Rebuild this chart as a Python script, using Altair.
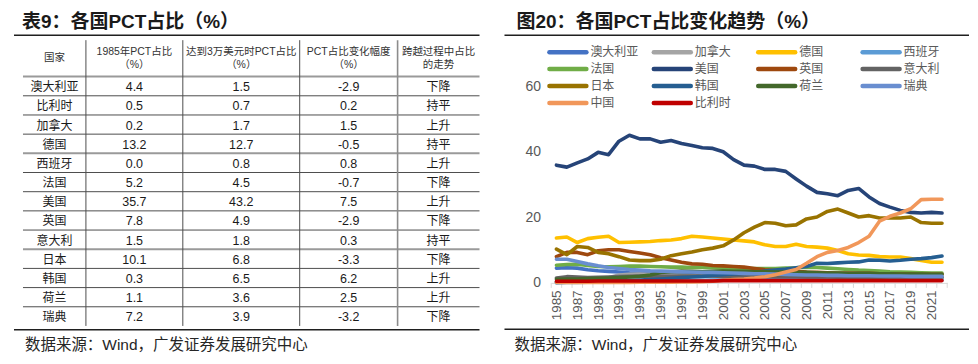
import altair as alt
import pandas as pd

# ---------------- data ----------------
YEARS = list(range(1985, 2023))
SERIES = ["澳大利亚", "加拿大", "德国", "西班牙", "法国", "美国", "英国",
          "意大利", "日本", "韩国", "荷兰", "瑞典", "中国", "比利时"]
COLORS = ["#4472C4", "#A5A5A5", "#FFC000", "#5B9BD5", "#70AD47", "#264478", "#9E480E",
          "#636363", "#997300", "#255E91", "#43682B", "#698ED0", "#F1975A", "#C00000"]

AUSTRALIA = [4.5, 4.6, 4.5, 4.0, 3.7, 3.5, 3.3, 3.1, 3.0, 2.9,
             2.8, 2.7, 2.6, 2.5, 2.4, 2.3, 2.2, 2.1, 2.0, 2.0,
             1.9, 1.9, 1.8, 1.8, 1.7, 1.7, 1.6, 1.6, 1.6, 1.5,
             1.5, 1.5, 1.5, 1.5, 1.4, 1.4, 1.4, 1.4]
CANADA = [0.2, 0.3, 0.4, 0.6, 0.9, 1.6, 2.4, 2.6, 2.7, 2.6,
          2.5, 2.4, 2.3, 2.2, 2.1, 2.0, 2.0, 1.9, 1.9, 1.8,
          1.8, 1.8, 1.7, 1.7, 1.7, 1.6, 1.6, 1.6, 1.6, 1.6,
          1.6, 1.5, 1.5, 1.5, 1.5, 1.5, 1.5, 1.5]
GERMANY = [13.7, 14.0, 12.3, 13.5, 13.9, 14.2, 12.3, 12.4, 12.5, 12.6,
           12.9, 13.1, 13.5, 14.2, 14.0, 13.7, 13.4, 13.1, 12.8, 12.5,
           11.6, 11.1, 11.1, 11.8, 11.1, 10.9, 10.6, 9.9, 8.9, 8.5,
           8.4, 8.0, 7.9, 7.9, 7.4, 6.8, 6.3, 6.3]
SPAIN = [0.0, 0.1, 0.1, 0.2, 0.3, 0.4, 0.5, 0.5, 0.6, 0.7,
         0.7, 0.7, 0.8, 0.8, 0.8, 0.9, 0.9, 0.9, 0.9, 1.0,
         1.0, 1.0, 1.0, 1.0, 1.0, 1.0, 0.9, 0.9, 0.9, 0.9,
         0.9, 0.9, 0.9, 0.9, 0.9, 0.9, 0.8, 0.8]
FRANCE = [5.4, 5.6, 5.7, 5.3, 5.0, 4.9, 5.0, 5.1, 5.1, 5.0,
          4.9, 4.8, 4.8, 4.7, 4.7, 4.6, 4.5, 4.5, 4.4, 4.4,
          4.4, 4.4, 4.5, 4.6, 4.8, 4.7, 4.5, 4.3, 4.1, 3.9,
          3.8, 3.6, 3.4, 3.3, 3.2, 3.1, 3.0, 3.0]
USA = [35.9, 35.3, 36.6, 37.8, 39.8, 39.1, 43.2, 45.0, 43.9, 43.9,
       42.9, 43.4, 42.5, 41.9, 41.2, 41.0, 40.0, 37.6, 35.9, 35.6,
       34.6, 34.6, 34.0, 31.7, 29.5, 27.6, 27.2, 26.6, 28.2, 28.8,
       26.2, 24.2, 23.1, 22.1, 21.5, 21.3, 21.5, 21.3]
UK = [8.0, 9.3, 9.3, 8.6, 9.8, 10.1, 10.1, 9.6, 9.1, 8.6,
      7.7, 7.0, 6.3, 5.8, 5.7, 5.3, 5.2, 5.0, 4.8, 4.4,
      4.0, 3.8, 3.6, 3.5, 3.3, 3.2, 3.1, 3.0, 3.0, 2.9,
      2.9, 2.8, 2.8, 2.7, 2.7, 2.6, 2.6, 2.6]
ITALY = [1.5, 1.9, 1.8, 1.6, 1.7, 1.8, 1.9, 2.0, 2.1, 2.0,
         2.0, 2.0, 2.1, 2.1, 2.1, 2.1, 2.0, 2.0, 2.0, 2.0,
         2.0, 1.9, 1.9, 1.9, 1.8, 1.8, 1.8, 1.7, 1.7, 1.7,
         1.7, 1.7, 1.8, 1.8, 1.8, 1.8, 1.8, 1.8]
JAPAN = [10.3, 8.6, 11.1, 10.8, 9.3, 8.9, 8.0, 7.0, 6.8, 6.8,
         7.2, 8.3, 8.9, 9.4, 10.1, 10.6, 11.3, 13.1, 15.3, 17.0,
         18.4, 18.2, 17.4, 17.7, 19.5, 20.1, 21.8, 22.5, 21.3, 20.1,
         20.5, 19.8, 19.8, 19.8, 20.1, 18.4, 18.2, 18.2]
KOREA = [0.3, 0.3, 0.4, 0.4, 0.5, 0.6, 0.7, 0.8, 0.9, 1.0,
         1.2, 1.4, 1.6, 1.8, 2.0, 2.3, 2.5, 2.7, 2.9, 3.2,
         3.6, 3.9, 4.2, 4.6, 5.0, 6.0, 5.9, 6.1, 6.3, 6.4,
         7.0, 6.9, 6.7, 6.9, 7.2, 7.4, 7.7, 8.2]
NETHERLANDS = [1.1, 1.2, 1.2, 1.3, 1.4, 1.5, 1.6, 1.8, 2.0, 2.4,
               3.2, 3.4, 3.6, 3.5, 3.4, 3.5, 3.6, 3.5, 3.5, 3.4,
               3.4, 3.3, 3.3, 3.2, 3.2, 3.1, 3.0, 3.0, 2.9, 2.9,
               2.9, 2.8, 2.8, 2.7, 2.7, 2.7, 2.6, 2.6]
SWEDEN = [7.2, 7.2, 6.5, 5.8, 5.2, 4.7, 4.4, 4.1, 3.9, 3.7,
          3.6, 3.5, 3.4, 3.3, 3.2, 3.2, 3.1, 3.0, 2.9, 2.8,
          2.8, 2.7, 2.6, 2.5, 2.4, 2.4, 2.3, 2.3, 2.2, 2.2,
          2.2, 2.1, 2.1, 2.1, 2.0, 2.0, 2.0, 2.0]
CHINA = [0.1, 0.1, 0.1, 0.1, 0.1, 0.1, 0.1, 0.1, 0.2, 0.2,
         0.2, 0.2, 0.3, 0.3, 0.4, 0.5, 0.8, 1.0, 1.2, 1.5,
         1.9, 2.5, 3.3, 4.1, 6.0, 8.0, 9.3, 9.9, 10.8, 12.3,
         14.2, 18.8, 20.3, 21.3, 22.6, 25.4, 25.5, 25.5]
BELGIUM = [0.5, 0.5, 0.5, 0.5, 0.6, 0.6, 0.6, 0.6, 0.6, 0.6,
           0.6, 0.6, 0.6, 0.6, 0.6, 0.6, 0.7, 0.7, 0.7, 0.7,
           0.7, 0.7, 0.7, 0.7, 0.7, 0.7, 0.7, 0.7, 0.7, 0.7,
           0.7, 0.7, 0.7, 0.7, 0.7, 0.7, 0.7, 0.7]

SERIES_VALUES = [AUSTRALIA, CANADA, GERMANY, SPAIN, FRANCE, USA, UK,
                 ITALY, JAPAN, KOREA, NETHERLANDS, SWEDEN, CHINA, BELGIUM]

TABLE_COUNTRIES = ["澳大利亚", "比利时", "加拿大", "德国", "西班牙", "法国", "美国",
                   "英国", "意大利", "日本", "韩国", "荷兰", "瑞典"]
PCT_1985 = [4.4, 0.5, 0.2, 13.2, 0.0, 5.2, 35.7, 7.8, 1.5, 10.1, 0.3, 1.1, 7.2]
PCT_30K = [1.5, 0.7, 1.7, 12.7, 0.8, 4.5, 43.2, 4.9, 1.8, 6.8, 6.5, 3.6, 3.9]
PCT_CHANGE = [-2.9, 0.2, 1.5, -0.5, 0.8, -0.7, 7.5, -2.9, 0.3, -3.3, 6.2, 2.5, -3.2]
TREND = ["下降", "持平", "上升", "持平", "上升", "下降", "上升",
         "下降", "持平", "下降", "上升", "上升", "下降"]
HEADERS = ["国家", "1985年PCT占比\n（%）", "达到3万美元时PCT占比\n（%）",
           "PCT占比变化幅度\n（%）", "跨越过程中占比\n的走势"]

TITLE_L = "表9：各国PCT占比（%）"
TITLE_R = "图20：各国PCT占比变化趋势（%）"
SOURCE = "数据来源：Wind，广发证券发展研究中心"
X_LABEL_YEARS = list(range(1985, 2022, 2))
Y_TICKS = [0, 20, 40, 60]

# ---------------- layout / style ----------------
FONT = "Liberation Sans, Noto Sans CJK SC"
CJK = "Noto Sans CJK SC"
LW, RW, H = 486, 472, 348
COL_EDGES = [15, 78, 175, 292, 390, 472]
ROW_TOP, ROW_H = 68.5, 19.2
HEADER_ROW = -0.95
HEADER_LH = 13
VLINE_TOP = -1.9
GRAY_ROWLINES = [0, 4, 9]


def deco_text(text, x, y, **kw):
    return alt.Chart(pd.DataFrame({"t": [text]})).mark_text(**kw).encode(
        x=alt.value(x), y=alt.value(y), text="t:N")


def deco_rule(x1, x2, y, color="#1f1f1f", width=1.5):
    return alt.Chart(pd.DataFrame({"a": [0]})).mark_rule(
        color=color, strokeWidth=width).encode(
        x=alt.value(x1), x2=alt.value(x2), y=alt.value(y))


# ---------------- left: table ----------------
xcol = alt.Scale(domain=list(range(6)), range=COL_EDGES, nice=False, zero=False)
yrow = alt.Scale(domain=[0, 13], range=[ROW_TOP, ROW_TOP + 13 * ROW_H], nice=False, zero=False)

cells = []
for r, name in enumerate(TABLE_COUNTRIES):
    vals = [name, f"{PCT_1985[r]:.1f}", f"{PCT_30K[r]:.1f}", f"{PCT_CHANGE[r]:.1f}", TREND[r]]
    for c, v in enumerate(vals):
        cells.append({"cx": c + 0.5, "ry": r + 0.5, "txt": v, "cjk": c in (0, 4)})
cells = pd.DataFrame(cells)

cell_num = alt.Chart(cells[~cells.cjk]).mark_text(
    font=FONT, fontSize=12.5, color="#1a1a1a", baseline="middle", dy=1).encode(
    x=alt.X("cx:Q", scale=xcol, axis=None), y=alt.Y("ry:Q", scale=yrow, axis=None), text="txt:N")
cell_cjk = alt.Chart(cells[cells.cjk]).mark_text(
    font=CJK, fontSize=12, color="#1a1a1a", baseline="middle", dy=1).encode(
    x=alt.X("cx:Q", scale=xcol, axis=None), y=alt.Y("ry:Q", scale=yrow, axis=None), text="txt:N")

head = pd.DataFrame({"cx": [c + 0.5 for c in range(5)], "ry": [HEADER_ROW] * 5, "txt": HEADERS})
head["multi"] = head.txt.str.contains("\n")
header_multi = alt.Chart(head[head.multi]).mark_text(
    font=FONT, fontSize=10.5, color="#333333", baseline="middle", lineBreak="\n",
    lineHeight=HEADER_LH, dy=-HEADER_LH / 2).encode(
    x=alt.X("cx:Q", scale=xcol, axis=None), y=alt.Y("ry:Q", scale=yrow, axis=None), text="txt:N")
header_single = alt.Chart(head[~head.multi]).mark_text(
    font=FONT, fontSize=10.5, color="#333333", baseline="middle").encode(
    x=alt.X("cx:Q", scale=xcol, axis=None), y=alt.Y("ry:Q", scale=yrow, axis=None), text="txt:N")

hl = pd.DataFrame({"k": list(range(13)), "x0": 0, "x1": 5})
hl["gray"] = hl.k.isin(GRAY_ROWLINES)
hlines_thin = alt.Chart(hl[~hl.gray]).mark_rule(color="#4d4d4d", strokeWidth=1).encode(
    x=alt.X("x0:Q", scale=xcol, axis=None), x2="x1:Q", y=alt.Y("k:Q", scale=yrow, axis=None))
hlines_gray = alt.Chart(hl[hl.gray]).mark_rule(color="#9a9a9a", strokeWidth=2).encode(
    x=alt.X("x0:Q", scale=xcol, axis=None), x2="x1:Q", y=alt.Y("k:Q", scale=yrow, axis=None))

vl = pd.DataFrame({"c": [1, 2, 3, 4], "y0": VLINE_TOP, "y1": 13})
vlines = alt.Chart(vl[vl.c < 4]).mark_rule(color="#4d4d4d", strokeWidth=1).encode(
    x=alt.X("c:Q", scale=xcol, axis=None), y=alt.Y("y0:Q", scale=yrow, axis=None), y2="y1:Q")
vlines_gray = alt.Chart(vl[vl.c == 4]).mark_rule(color="#8c8c8c", strokeWidth=1.6).encode(
    x=alt.X("c:Q", scale=xcol, axis=None), y=alt.Y("y0:Q", scale=yrow, axis=None), y2="y1:Q")

left = alt.layer(
    deco_text(TITLE_L, 14, 20, font=FONT, fontSize=19, fontWeight="bold", color="#1a1a1a",
              align="left", baseline="alphabetic"),
    deco_rule(6, 472, 27),
    hlines_gray, hlines_thin, vlines, vlines_gray, header_multi, header_single, cell_num, cell_cjk,
    deco_rule(6, 472, 322),
    deco_text(SOURCE, 17, 337, font=FONT, fontSize=15.5, color="#262626",
              align="left", baseline="middle"),
).properties(width=LW, height=H)

# ---------------- right: line chart ----------------
rows = []
for s, vals in zip(SERIES, SERIES_VALUES):
    for y, v in zip(YEARS, vals):
        rows.append({"series": s, "year": y, "value": v})
lines_df = pd.DataFrame(rows)

X_DOMAIN = [YEARS[0] - 0.5, YEARS[-1] + 0.5]
X_RANGE = [53.8, 450.2]
Y_RANGE = [275, 78]


def xs():
    return alt.Scale(domain=X_DOMAIN, range=X_RANGE, nice=False, zero=False)


def ys():
    return alt.Scale(domain=[0, 60], range=Y_RANGE, nice=False)


color = alt.Color("series:N", scale=alt.Scale(domain=SERIES, range=COLORS), legend=None)

lines = alt.Chart(lines_df).mark_line(strokeWidth=3.6, strokeCap="round", strokeJoin="round").encode(
    x=alt.X("year:Q", scale=xs(), axis=alt.Axis(
        values=X_LABEL_YEARS, format="d", labelAngle=270, labelAlign="right", labelBaseline="middle",
        labelPadding=7, ticks=False, tickSize=0, domainColor="#D9D9D9", domainWidth=1, grid=False,
        labelFontSize=13.5, labelColor="#595959", labelFont="Liberation Sans", offset=-73, title=None,
        labelFlush=False, labelOverlap=False)),
    y=alt.Y("value:Q", scale=ys(), axis=alt.Axis(
        values=Y_TICKS, domain=False, ticks=False, tickSize=0, grid=False, labelFontSize=14,
        labelColor="#595959", labelFont="Liberation Sans", labelPadding=0, offset=-43, title=None)),
    color=color,
)

tk = pd.DataFrame({"b": [YEARS[0] - 0.5 + i for i in range(len(YEARS) + 1)], "z": 0})
ticks = alt.Chart(tk).mark_rule(color="#D9D9D9", strokeWidth=1).encode(
    x=alt.X("b:Q", scale=xs(), axis=None), y=alt.Y("z:Q", scale=ys(), axis=None), y2=alt.value(280))

LEG_X0, LEG_PITCH, LEG_SW, LEG_Y0, LEG_ROWH = 52, 104.5, 37, 44, 17
leg = pd.DataFrame({"series": SERIES,
                    "col": [i % 4 for i in range(len(SERIES))],
                    "row": [i // 4 for i in range(len(SERIES))]})
leg["col2"] = leg.col + LEG_SW / LEG_PITCH
lx = alt.Scale(domain=[0, 4], range=[LEG_X0, LEG_X0 + 4 * LEG_PITCH], nice=False, zero=False)
ly = alt.Scale(domain=[0, 3], range=[LEG_Y0, LEG_Y0 + 3 * LEG_ROWH], nice=False, zero=False)
leg_sw = alt.Chart(leg).mark_rule(strokeWidth=4.5, strokeCap="round").encode(
    x=alt.X("col:Q", scale=lx, axis=None), x2="col2:Q",
    y=alt.Y("row:Q", scale=ly, axis=None), color=color)
leg_tx = alt.Chart(leg).mark_text(align="left", baseline="middle", dx=LEG_SW + 4, font=CJK,
                                  fontSize=12, color="#595959").encode(
    x=alt.X("col:Q", scale=lx, axis=None), y=alt.Y("row:Q", scale=ly, axis=None), text="series:N")

right = alt.layer(
    deco_text(TITLE_R, 19, 20, font=FONT, fontSize=19, fontWeight="bold", color="#1a1a1a",
              align="left", baseline="alphabetic"),
    deco_rule(7, 472, 27),
    ticks, lines, leg_sw, leg_tx,
    deco_rule(7, 472, 321.5),
    deco_text(SOURCE, 17, 337, font=FONT, fontSize=15.5, color="#262626",
              align="left", baseline="middle"),
).resolve_scale(x="independent", y="independent").properties(width=RW, height=H)

chart = alt.hconcat(left, right, spacing=4).properties(padding=0).configure_view(strokeWidth=0)
chart.save("out.html", embed_options={"renderer": "svg", "actions": False})
